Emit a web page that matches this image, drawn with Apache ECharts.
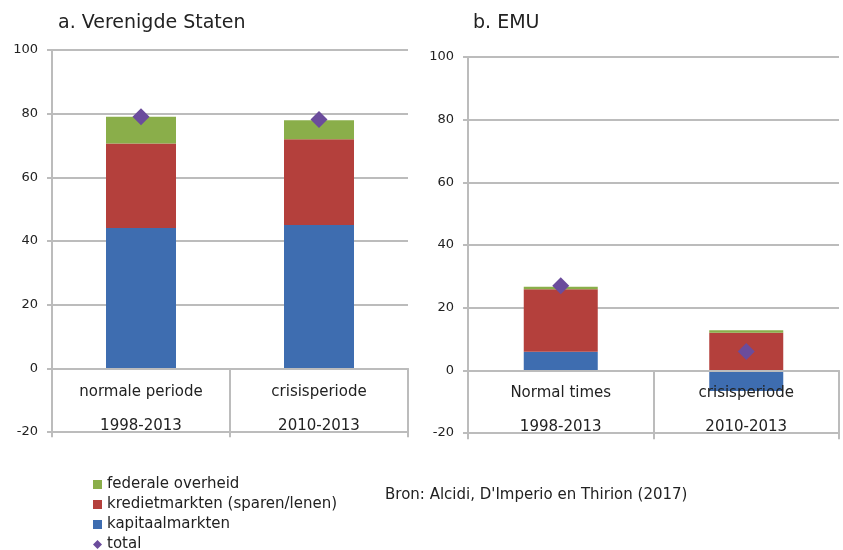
<!DOCTYPE html>
<html>
<head>
<meta charset="utf-8">
<script src="https://cdn.jsdelivr.net/npm/echarts@6/dist/echarts.min.js"></script>
<style>
  html, body { margin: 0; padding: 0; background: #fff; }
  #chart { width: 843px; height: 550px; }
</style>
</head>
<body>
<div id="chart"></div>
<script>
// categories
const periodsUS = ['normale periode', 'crisisperiode']
const periodsEMU = ['Normal times', 'crisisperiode']
const years = ['1998-2013', '2010-2013']

// a. Verenigde Staten
const usKapitaal = [44.1, 45.0]
const usKrediet = [26.5, 27.0]
const usFederaal = [8.4, 5.9]
const usTotal = [79.0, 78.2]

// b. EMU
const emuKapitaal = [5.9, -6.6]
const emuKrediet = [20.0, 12.0]
const emuFederaal = [0.8, 0.8]
const emuTotal = [27.0, 6.0]

const yTicks = { min: -20, max: 100, interval: 20 }

const names = {
  fed: 'federale overheid',
  kred: 'kredietmarkten (sparen/lenen)',
  kap: 'kapitaalmarkten',
  total: 'total'
}
const colors = {
  fed: '#8aae4a',
  kred: '#b4403c',
  kap: '#3e6db0',
  total: '#6b4c9c'
}

const gridColor = '#bcbcbc'
const font = 'DejaVu Sans'

const makeXAxis = (idx, periods) => ({
  type: 'category',
  gridIndex: idx,
  data: periods.map((p, i) => p + '\n' + years[i]),
  z: 10,
  axisLine: { show: true, onZero: true, lineStyle: { color: gridColor, width: 2 } },
  axisTick: { show: true, length: 69, lineStyle: { color: gridColor, width: 2 } },
  axisLabel: {
    interval: 0,
    margin: -57, // labels sit between the long ticks
    lineHeight: 34,
    fontSize: 15,
    fontFamily: font,
    color: '#222'
  }
})

const makeYAxis = idx => ({
  type: 'value',
  gridIndex: idx,
  min: yTicks.min,
  max: yTicks.max,
  interval: yTicks.interval,
  axisLine: { show: true, lineStyle: { color: gridColor, width: 2 } },
  axisTick: { show: true, length: 5, lineStyle: { color: gridColor, width: 2 } },
  splitLine: { show: true, lineStyle: { color: gridColor, width: 2 } },
  axisLabel: { margin: 14, fontSize: 13, fontFamily: font, color: '#222' }
})

const makeSeries = (idx, kap, kred, fed, total, barWidth) => [
  { name: names.kap, type: 'bar', stack: 's' + idx, xAxisIndex: idx, yAxisIndex: idx, barWidth, data: kap, itemStyle: { color: colors.kap } },
  { name: names.kred, type: 'bar', stack: 's' + idx, xAxisIndex: idx, yAxisIndex: idx, barWidth, data: kred, itemStyle: { color: colors.kred } },
  { name: names.fed, type: 'bar', stack: 's' + idx, xAxisIndex: idx, yAxisIndex: idx, barWidth, data: fed, itemStyle: { color: colors.fed } },
  { name: names.total, type: 'scatter', xAxisIndex: idx, yAxisIndex: idx, symbol: 'diamond', symbolSize: 17, z: 5, data: total, itemStyle: { color: colors.total, opacity: 1 } }
]

const chart = echarts.init(document.getElementById('chart'))

chart.setOption({
  animation: false,
  backgroundColor: '#fff',
  title: [
    { text: 'a. Verenigde Staten', left: 53, top: 9, textStyle: { fontFamily: font, fontSize: 19, fontWeight: 'normal', color: '#222' } },
    { text: 'b. EMU', left: 468, top: 9, textStyle: { fontFamily: font, fontSize: 19, fontWeight: 'normal', color: '#222' } }
  ],
  grid: [
    { left: 52, right: 435, top: 50, bottom: 118 },
    { left: 468, right: 4, top: 57, bottom: 117 }
  ],
  legend: {
    orient: 'vertical',
    left: 93,
    top: 477,
    height: 90,
    padding: 0,
    itemWidth: 9,
    itemHeight: 9,
    itemGap: 5,
    textStyle: { fontFamily: font, fontSize: 15, lineHeight: 15, color: '#222' },
    data: [
      { name: names.fed, icon: 'rect' },
      { name: names.kred, icon: 'rect' },
      { name: names.kap, icon: 'rect' },
      { name: names.total, icon: 'diamond' }
    ]
  },
  graphic: [
    {
      type: 'text',
      left: 385,
      top: 488,
      style: { text: "Bron: Alcidi, D'Imperio en Thirion (2017)", font: '15px "DejaVu Sans"', fill: '#222' }
    }
  ],
  xAxis: [makeXAxis(0, periodsUS), makeXAxis(1, periodsEMU)],
  yAxis: [makeYAxis(0), makeYAxis(1)],
  series: [
    ...makeSeries(0, usKapitaal, usKrediet, usFederaal, usTotal, 70),
    ...makeSeries(1, emuKapitaal, emuKrediet, emuFederaal, emuTotal, 74)
  ]
})
</script>
</body>
</html>
